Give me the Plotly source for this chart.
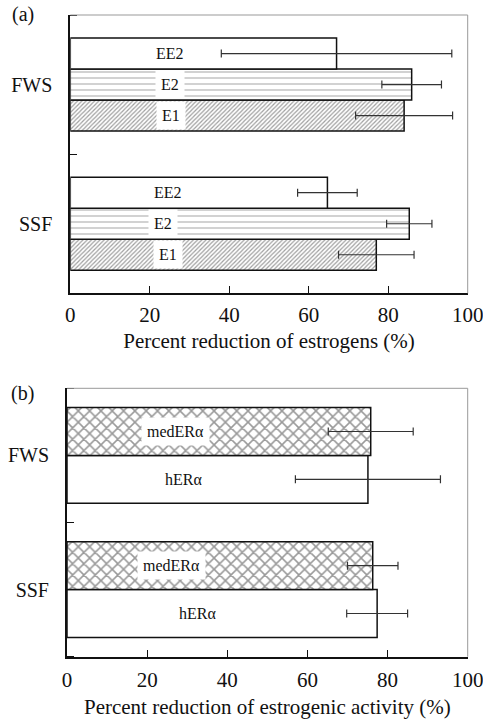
import plotly.graph_objects as go

# ---------------- data ----------------
categories = ["SSF", "FWS"]          # bottom -> top
ypos = [0, 1]

# panel (a): percent reduction of estrogens
a_series = ["E1", "E2", "EE2"]       # bottom -> top within a group
a_values = {"E1": [77.0, 84.0], "E2": [85.3, 85.9], "EE2": [64.7, 67.0]}
a_errors = {"E1": [9.5, 12.2], "E2": [5.7, 7.5], "EE2": [7.5, 29.0]}
a_label_x = {"E1": [24.6, 25.3], "E2": [23.4, 25.0], "EE2": [24.5, 25.0]}

# panel (b): percent reduction of estrogenic activity
b_series = ["hERα", "medERα"]
b_values = {"hERα": [77.4, 75.1], "medERα": [76.3, 75.8]}
b_errors = {"hERα": [7.6, 18.1], "medERα": [6.3, 10.6]}
b_label_x = {"hERα": [32.6, 29.0], "medERα": [26.0, 27.0]}

x_ticks = [0, 20, 40, 60, 80, 100]

# ---------------- styles ----------------
FONT = "Liberation Serif, Times New Roman, serif"
a_styles = {
    "E1": dict(shape="/", fgcolor="#404040", size=3, solidity=0.4),
    "E2": dict(shape="-", fgcolor="#666666", size=6, solidity=0.2),
    "EE2": dict(shape=""),
}
b_styles = {
    "hERα": dict(shape=""),
    "medERα": dict(shape="x", fgcolor="#333333", size=8, solidity=0.35),
}
a_box = {"E1": True, "E2": True, "EE2": False}
b_box = {"hERα": False, "medERα": True}

fig = go.Figure()

def add_group(series, values, errors, styles, label_x, boxed, width, xa, ya):
    n = len(series)
    anns = []
    for i, s in enumerate(series):
        off = -n * width / 2 + i * width
        fig.add_trace(go.Bar(
            y=ypos, x=values[s], orientation="h",
            width=width, offset=off,
            marker=dict(color="white", line=dict(color="#111111", width=1.5),
                        pattern=styles[s]),
            error_x=dict(type="data", array=errors[s], visible=True,
                         color="#333333", thickness=1.2, width=4),
            xaxis=xa, yaxis=ya, showlegend=False,
        ))
        for yv, lx in zip(ypos, label_x[s]):
            anns.append(dict(
                x=lx, y=yv + off + width / 2, xref=xa, yref=ya,
                text=s, showarrow=False,
                bgcolor="white" if boxed[s] else "rgba(0,0,0,0)",
                borderpad=5,
                font=dict(family=FONT, size=16, color="#111111"),
            ))
    return anns

anns = []
anns += add_group(a_series, a_values, a_errors, a_styles, a_label_x, a_box, 0.223, "x", "y")
anns += add_group(b_series, b_values, b_errors, b_styles, b_label_x, b_box, 0.356, "x2", "y2")

# panel tags
anns.append(dict(x=10 / 483, y=1 - 15 / 719, xref="paper", yref="paper",
                 text="(a)", showarrow=False, xanchor="left", yanchor="middle",
                 font=dict(family=FONT, size=20, color="#111111")))
anns.append(dict(x=9 / 483, y=1 - 393 / 719, xref="paper", yref="paper",
                 text="(b)", showarrow=False, xanchor="left", yanchor="middle",
                 font=dict(family=FONT, size=20, color="#111111")))

xaxis_common = dict(
    range=[0, 100], tickvals=x_ticks, ticks="inside", ticklen=7,
    tickcolor="#111111", tickwidth=1.2, showline=True, linecolor="#111111",
    linewidth=2, showgrid=False, zeroline=False, automargin=False,
    tickfont=dict(family=FONT, size=21, color="#111111"),
    ticklabeloverflow="allow",
)
yaxis_common = dict(
    range=[-0.5, 1.5], tickvals=ypos, ticktext=categories, ticks="",
    showline=True, linecolor="#111111", linewidth=2, showgrid=False,
    zeroline=False, automargin=False,
    tickfont=dict(family=FONT, size=20, color="#111111"),
    ticklabelstandoff=12,
    minor=dict(tickmode="array", tickvals=[-0.5, 0.5, 1.5], ticks="inside",
               ticklen=7, tickcolor="#111111", tickwidth=1.2, showgrid=False),
)

fig.update_layout(
    width=483, height=719, margin=dict(l=0, r=0, t=0, b=0, autoexpand=False),
    paper_bgcolor="white", plot_bgcolor="white",
    font=dict(family=FONT, color="#111111"),
    xaxis=dict(domain=[70.3 / 483, 467.7 / 483], anchor="y", ticklabelstandoff=1,
               title=dict(text="Percent reduction of estrogens (%)", standoff=8,
                          font=dict(family=FONT, size=21, color="#111111")),
               **xaxis_common),
    yaxis=dict(domain=[1 - 293.3 / 719, 1 - 15 / 719], anchor="x", **yaxis_common),
    xaxis2=dict(domain=[67 / 483, 467.7 / 483], anchor="y2", ticklabelstandoff=3,
                title=dict(text="Percent reduction of estrogenic activity (%)", standoff=17,
                           font=dict(family=FONT, size=21, color="#111111")),
                **xaxis_common),
    yaxis2=dict(domain=[1 - 656.7 / 719, 1 - 388.3 / 719], anchor="x2", **yaxis_common),
    annotations=anns,
    shapes=[
        dict(type="line", xref="x domain", yref="y domain", x0=0, x1=1, y0=1, y1=1,
             line=dict(color="#999999", width=1)),
        dict(type="line", xref="x domain", yref="y domain", x0=1, x1=1, y0=0, y1=1,
             line=dict(color="#999999", width=1)),
        dict(type="line", xref="x2 domain", yref="y2 domain", x0=0, x1=1, y0=1, y1=1,
             line=dict(color="#999999", width=1)),
        dict(type="line", xref="x2 domain", yref="y2 domain", x0=1, x1=1, y0=0, y1=1,
             line=dict(color="#999999", width=1)),
    ],
)

fig.write_html("out.html")
